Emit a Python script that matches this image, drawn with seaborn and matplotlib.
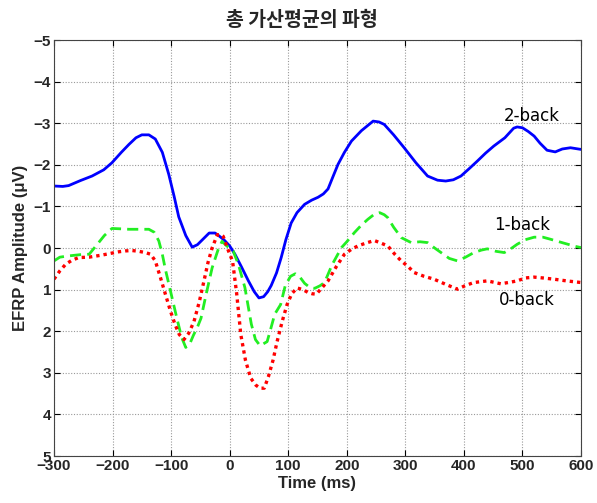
import numpy as np
import pandas as pd
import matplotlib
matplotlib.use("Agg")
import matplotlib.pyplot as plt
import seaborn as sns

# ---- data ----
t_2back = [-300, -285, -275, -255, -235, -215, -201, -185, -172, -160, -150, -138, -127, -115,
           -104, -95, -87, -75, -64, -55, -45, -35, -25, -19, -10, 0, 9, 20, 32, 42, 50, 58,
           65, 71, 80, 88, 96, 105, 115, 128, 140, 151, 160, 168, 176, 185, 196, 208, 225,
           245, 255, 264, 280, 298, 318, 338, 355, 369, 382, 395, 410, 423, 437, 451, 470,
           485, 491, 500, 510, 520, 530, 542, 556, 568, 582, 600]
v_2back = [-1.49, -1.48, -1.50, -1.62, -1.73, -1.88, -2.05, -2.30, -2.49, -2.65, -2.72, -2.72,
           -2.62, -2.30, -1.77, -1.25, -0.75, -0.30, -0.02, -0.08, -0.22, -0.36, -0.36, -0.30,
           -0.20, -0.05, 0.15, 0.45, 0.79, 1.05, 1.20, 1.17, 1.05, 0.90, 0.60, 0.23, -0.20,
           -0.60, -0.85, -1.05, -1.15, -1.22, -1.30, -1.42, -1.70, -2.01, -2.30, -2.57, -2.82,
           -3.05, -3.03, -2.97, -2.72, -2.41, -2.05, -1.73, -1.63, -1.61, -1.64, -1.73, -1.92,
           -2.09, -2.28, -2.45, -2.65, -2.88, -2.91, -2.89, -2.80, -2.69, -2.52, -2.35, -2.31,
           -2.38, -2.41, -2.37]

t_1back = [-300, -290, -275, -255, -240, -226, -214, -201, -185, -172, -150, -138, -129, -121,
           -115, -110, -100, -90, -82, -75, -68, -62, -55, -49, -40, -30, -20, -13, -5, 6, 15,
           26, 37, 44, 52, 64, 70, 77, 87, 95, 104, 112, 120, 128, 137, 145, 154, 162, 175,
           191, 200, 213, 225, 236, 246, 256, 264, 270, 280, 293, 310, 325, 338, 350, 361,
           375, 389, 403, 417, 430, 440, 455, 469, 480, 491, 505, 520, 535, 548, 570, 590, 600]
v_1back = [0.31, 0.22, 0.19, 0.16, 0.15, -0.09, -0.30, -0.47, -0.46, -0.45, -0.45, -0.45, -0.38,
           -0.17, 0.15, 0.50, 1.10, 1.70, 2.15, 2.39, 2.30, 2.10, 1.90, 1.69, 1.10, 0.48, 0.05,
           -0.16, -0.05, 0.07, 0.40, 0.95, 1.83, 2.20, 2.35, 2.25, 1.95, 1.59, 1.36, 0.90,
           0.68, 0.62, 0.70, 0.85, 0.95, 0.97, 0.91, 0.83, 0.40, -0.01, -0.15, -0.37, -0.55,
           -0.69, -0.80, -0.85, -0.80, -0.73, -0.50, -0.25, -0.13, -0.15, -0.13, 0.00, 0.11,
           0.25, 0.31, 0.22, 0.11, 0.05, 0.02, 0.08, 0.11, 0.02, -0.09, -0.20, -0.26, -0.26,
           -0.21, -0.12, -0.04, -0.01]

t_0back = [-300, -290, -280, -270, -258, -240, -218, -200, -189, -178, -167, -155, -144, -135,
           -127, -118, -110, -101, -93, -86, -78, -70, -61, -52, -44, -37, -30, -21, -15, -11,
           -4, 5, 12, 19, 27, 36, 45, 52, 59, 66, 74, 81, 90, 98, 106, 115, 125, 134, 141,
           148, 158, 168, 182, 196, 208, 219, 233, 247, 258, 270, 282, 293, 305, 315, 332,
           349, 370, 389, 403, 417, 440, 463, 480, 491, 505, 520, 535, 554, 575, 600]
v_0back = [0.75, 0.55, 0.39, 0.30, 0.23, 0.22, 0.17, 0.12, 0.09, 0.07, 0.06, 0.08, 0.11, 0.15,
           0.31, 0.72, 1.10, 1.52, 1.85, 2.08, 2.20, 2.05, 1.77, 1.30, 0.80, 0.35, 0.00, -0.32,
           -0.32, -0.28, 0.00, 0.32, 1.10, 2.08, 2.70, 3.13, 3.30, 3.37, 3.37, 3.10, 2.70,
           2.25, 1.75, 1.36, 1.10, 0.96, 1.00, 1.07, 1.10, 1.11, 0.95, 0.79, 0.45, 0.15, 0.03,
           -0.05, -0.12, -0.18, -0.12, -0.05, 0.15, 0.31, 0.45, 0.59, 0.68, 0.75, 0.88, 0.99,
           0.90, 0.83, 0.79, 0.86, 0.82, 0.79, 0.72, 0.70, 0.72, 0.75, 0.79, 0.83]

series_names = ["2-back", "1-back", "0-back"]
label_pos_t = [516, 500, 508]
label_pos_v = [-3.17, -0.56, 1.24]
x_ticks = [-300, -200, -100, 0, 100, 200, 300, 400, 500, 600]
y_ticks = [-5, -4, -3, -2, -1, 0, 1, 2, 3, 4, 5]
title = "총 가산평균의 파형"
xlabel = "Time (ms)"
ylabel = "EFRP Amplitude (μV)"

df = pd.concat([
    pd.DataFrame({"t": t_2back, "v": v_2back, "cond": "2-back"}),
    pd.DataFrame({"t": t_1back, "v": v_1back, "cond": "1-back"}),
    pd.DataFrame({"t": t_0back, "v": v_0back, "cond": "0-back"}),
])

sns.set_style("white")
plt.rcParams['font.family'] = ['Liberation Sans', 'Noto Sans CJK KR', 'DejaVu Sans']

fig = plt.figure(figsize=(5.97, 5.03), dpi=100)
ax = fig.add_axes([54/597, 1-456/503, (581-54)/597, (456-40)/503])

styles = {"2-back": dict(color="#0000ff", ls="-", lw=2.0),
          "1-back": dict(color="#22ee22", ls=(0, (4, 2.2)), lw=2.0),
          "0-back": dict(color="#ff0000", ls=(0, (1, 1.2)), lw=2.4)}
for name in series_names:
    sub = df[df["cond"] == name]
    sns.lineplot(data=sub, x="t", y="v", ax=ax, estimator=None, sort=False,
                 color=styles[name]["color"], linestyle=styles[name]["ls"],
                 linewidth=styles[name]["lw"], legend=False)

for name, lt, lv in zip(series_names, label_pos_t, label_pos_v):
    ax.text(lt, lv, name, ha="center", va="center", fontsize=12,
            family=["DejaVu Sans"], color="black")

ax.set_xlim(-300, 600)
ax.set_ylim(5, -5)
ax.set_xticks(x_ticks)
ax.set_yticks(y_ticks)
ax.set_xticklabels([str(x).replace("-", "\u2212") for x in x_ticks], fontsize=11, fontweight="bold")
ax.set_yticklabels([str(y).replace("-", "\u2212") for y in y_ticks], fontsize=11, fontweight="bold")
ax.grid(True, color="#999999", linestyle=(0, (1, 1.5)), linewidth=0.8)
ax.tick_params(direction="in", length=4, color="black", pad=2, top=True, right=True,
               bottom=True, left=True)
for s in ax.spines.values():
    s.set_color("#444444")
    s.set_linewidth(0.8)

ax.set_xlabel(xlabel, fontsize=12, fontweight="bold", labelpad=2)
ax.set_ylabel(ylabel, fontsize=12, fontweight="bold", labelpad=4)
fig.text(0.505, 1 - 20/503, title, ha="center", va="center", fontsize=14,
         fontweight="bold", family=["Noto Sans CJK KR"])

fig.savefig("out.png", dpi=100)
